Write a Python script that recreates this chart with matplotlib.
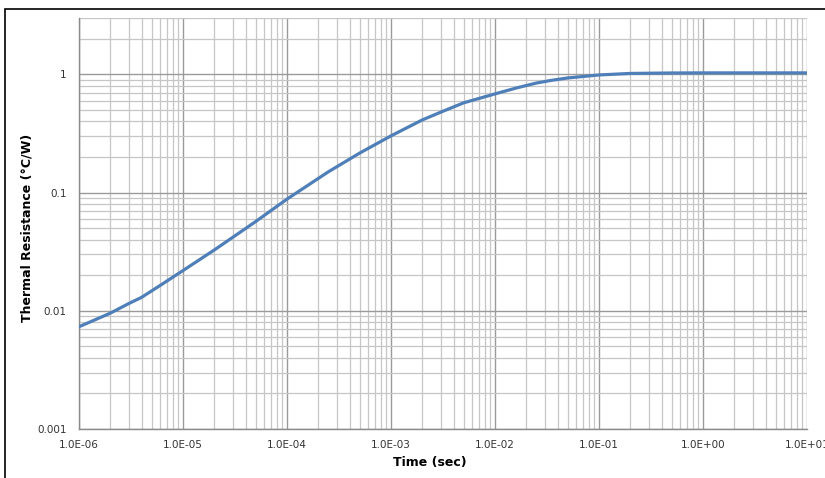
import numpy as np
import matplotlib
matplotlib.use('Agg')
import matplotlib.pyplot as plt
from matplotlib.patches import Rectangle
from matplotlib.ticker import LogLocator, FixedLocator, FixedFormatter, NullFormatter

# Valores (tiempo en s, resistencia en C/W)
time_sec = [1.0e-6, 2.0e-6, 3.0e-6, 4.0e-6, 6.3e-6, 1.0e-5, 2.0e-5, 5.0e-5,
            1.0e-4, 2.5e-4, 5.0e-4, 1.0e-3, 2.0e-3, 3.2e-3, 5.0e-3, 1.0e-2,
            1.6e-2, 2.5e-2, 3.5e-2, 5.0e-2, 1.0e-1, 2.0e-1, 5.0e-1, 1.0, 10.0]
thermal_res = [0.00733, 0.00955, 0.0115, 0.0130, 0.0168, 0.0219, 0.0327, 0.0569,
               0.0881, 0.150, 0.216, 0.302, 0.412, 0.490, 0.575, 0.684,
               0.767, 0.845, 0.891, 0.933, 0.989, 1.019, 1.028, 1.03, 1.03]

x_ticks = [1e-6, 1e-5, 1e-4, 1e-3, 1e-2, 1e-1, 1e0, 1e1]
x_tick_labels = ['1.0E-06', '1.0E-05', '1.0E-04', '1.0E-03', '1.0E-02',
                 '1.0E-01', '1.0E+00', '1.0E+01']
y_ticks = [0.001, 0.01, 0.1, 1]
y_tick_labels = ['0.001', '0.01', '0.1', '1']

W, H = 825, 478
fig = plt.figure(figsize=(W / 100, H / 100), dpi=100)
ax = fig.add_axes([79 / W, 1 - 429 / H, (807 - 79) / W, (429 - 18) / H])

ax.plot(time_sec, thermal_res, color='#4f7fb8', lw=2.3, solid_capstyle='round',
        solid_joinstyle='round', zorder=3)

ax.set_xscale('log')
ax.set_yscale('log')
ax.set_xlim(1e-6, 10)
ax.set_ylim(0.001, 3)

ax.xaxis.set_major_locator(FixedLocator(x_ticks))
ax.xaxis.set_major_formatter(FixedFormatter(x_tick_labels))
ax.yaxis.set_major_locator(FixedLocator(y_ticks))
ax.yaxis.set_major_formatter(FixedFormatter(y_tick_labels))
for axis in (ax.xaxis, ax.yaxis):
    axis.set_minor_locator(LogLocator(base=10, subs=np.arange(2, 10), numticks=30))
    axis.set_minor_formatter(NullFormatter())

# Rejilla estilo Excel
ax.grid(True, which='major', color='#9a9a9a', lw=1.0)
ax.grid(True, which='minor', color='#c6c6c6', lw=0.9)
ax.set_axisbelow(True)
ax.tick_params(which='both', length=0)
ax.tick_params(axis='x', pad=8, labelsize=7.5, labelcolor='#333333')
ax.tick_params(axis='y', pad=9, labelsize=7.5, labelcolor='#333333')

for side in ['top', 'right']:
    ax.spines[side].set_visible(False)
for side in ['left', 'bottom']:
    ax.spines[side].set_color('#8a8a8a')
    ax.spines[side].set_linewidth(1.0)

ax.set_xlabel('Time (sec)', fontsize=9, fontweight='bold')
ax.xaxis.set_label_coords((430 - 79) / (807 - 79), -(456 - 429) / (429 - 18))
ax.set_ylabel('Thermal Resistance (\u00b0C/W)', fontsize=9, fontweight='bold')
ax.yaxis.set_label_coords(-(79 - 34) / (807 - 79), 0.49)

# Marco negro de la imagen
fig.add_artist(Rectangle((5 / W, -0.1), 1.2, 1.1 - 9 / H, fill=False,
                         ec='black', lw=1.2, transform=fig.transFigure))

fig.savefig('out.png', dpi=100)
